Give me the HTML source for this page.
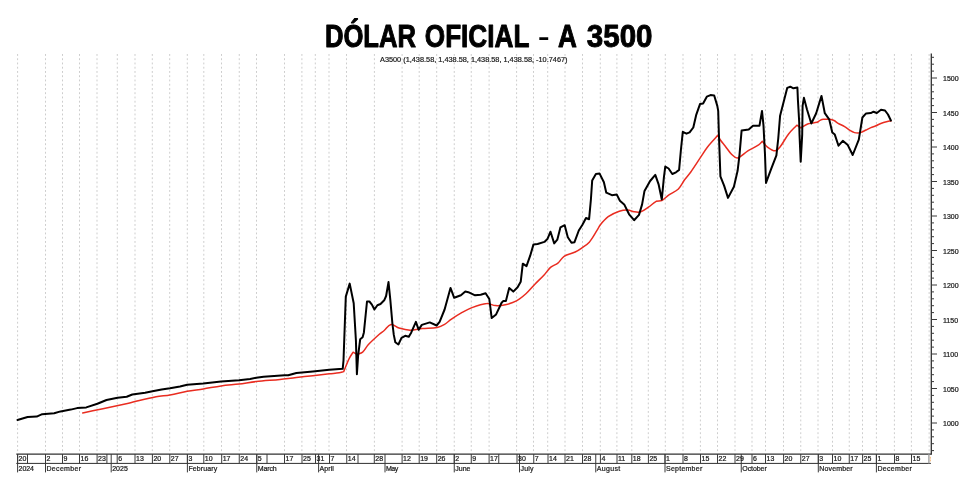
<!DOCTYPE html>
<html lang="es"><head><meta charset="utf-8"><title>DÓLAR OFICIAL – A 3500</title>
<style>html,body{margin:0;padding:0;background:#fff;}body{width:980px;height:487px;overflow:hidden;}svg{display:block;}text{font-family:"Liberation Sans",sans-serif;}</style></head><body>
<svg width="980" height="487" viewBox="0 0 980 487">
<rect width="980" height="487" fill="#fff"/>
<g stroke="#cdcdcd" stroke-width="1" stroke-dasharray="1.9 2.35" fill="none">
<line x1="17.60" y1="54" x2="17.60" y2="453"/>
<line x1="45.50" y1="54" x2="45.50" y2="453"/>
<line x1="62.50" y1="54" x2="62.50" y2="453"/>
<line x1="79.50" y1="54" x2="79.50" y2="453"/>
<line x1="97.00" y1="54" x2="97.00" y2="453"/>
<line x1="117.30" y1="54" x2="117.30" y2="453"/>
<line x1="135.00" y1="54" x2="135.00" y2="453"/>
<line x1="152.30" y1="54" x2="152.30" y2="453"/>
<line x1="169.70" y1="54" x2="169.70" y2="453"/>
<line x1="187.30" y1="54" x2="187.30" y2="453"/>
<line x1="203.80" y1="54" x2="203.80" y2="453"/>
<line x1="221.50" y1="54" x2="221.50" y2="453"/>
<line x1="239.25" y1="54" x2="239.25" y2="453"/>
<line x1="256.50" y1="54" x2="256.50" y2="453"/>
<line x1="284.50" y1="54" x2="284.50" y2="453"/>
<line x1="301.90" y1="54" x2="301.90" y2="453"/>
<line x1="315.30" y1="54" x2="315.30" y2="453"/>
<line x1="329.00" y1="54" x2="329.00" y2="453"/>
<line x1="346.50" y1="54" x2="346.50" y2="453"/>
<line x1="374.40" y1="54" x2="374.40" y2="453"/>
<line x1="402.10" y1="54" x2="402.10" y2="453"/>
<line x1="419.20" y1="54" x2="419.20" y2="453"/>
<line x1="436.70" y1="54" x2="436.70" y2="453"/>
<line x1="454.25" y1="54" x2="454.25" y2="453"/>
<line x1="471.25" y1="54" x2="471.25" y2="453"/>
<line x1="489.10" y1="54" x2="489.10" y2="453"/>
<line x1="516.60" y1="54" x2="516.60" y2="453"/>
<line x1="533.50" y1="54" x2="533.50" y2="453"/>
<line x1="547.70" y1="54" x2="547.70" y2="453"/>
<line x1="565.00" y1="54" x2="565.00" y2="453"/>
<line x1="582.50" y1="54" x2="582.50" y2="453"/>
<line x1="600.30" y1="54" x2="600.30" y2="453"/>
<line x1="616.90" y1="54" x2="616.90" y2="453"/>
<line x1="631.80" y1="54" x2="631.80" y2="453"/>
<line x1="648.30" y1="54" x2="648.30" y2="453"/>
<line x1="665.30" y1="54" x2="665.30" y2="453"/>
<line x1="683.00" y1="54" x2="683.00" y2="453"/>
<line x1="700.40" y1="54" x2="700.40" y2="453"/>
<line x1="717.50" y1="54" x2="717.50" y2="453"/>
<line x1="735.00" y1="54" x2="735.00" y2="453"/>
<line x1="752.00" y1="54" x2="752.00" y2="453"/>
<line x1="765.50" y1="54" x2="765.50" y2="453"/>
<line x1="783.50" y1="54" x2="783.50" y2="453"/>
<line x1="800.75" y1="54" x2="800.75" y2="453"/>
<line x1="818.00" y1="54" x2="818.00" y2="453"/>
<line x1="832.50" y1="54" x2="832.50" y2="453"/>
<line x1="849.25" y1="54" x2="849.25" y2="453"/>
<line x1="862.50" y1="54" x2="862.50" y2="453"/>
<line x1="876.40" y1="54" x2="876.40" y2="453"/>
<line x1="894.40" y1="54" x2="894.40" y2="453"/>
<line x1="911.40" y1="54" x2="911.40" y2="453"/>
<line x1="929.2" y1="54" x2="929.2" y2="453" stroke="#e2e2e2" stroke-width="1.6"/>
</g>
<g font-size="31.5" font-weight="bold" fill="#000" stroke="#000" stroke-linejoin="round">
<text transform="translate(324.90,46.80) scale(0.8143,1.000)" stroke-width="0.9" vector-effect="non-scaling-stroke">DÓLAR</text>
<text transform="translate(424.80,46.80) scale(0.8305,1.000)" stroke-width="0.9" vector-effect="non-scaling-stroke">OFICIAL</text>
<text transform="translate(538.70,46.05) scale(0.5720,0.880)" stroke-width="0" vector-effect="non-scaling-stroke">–</text>
<text transform="translate(558.00,46.80) scale(0.8286,1.000)" stroke-width="0.9" vector-effect="non-scaling-stroke">A</text>
<text transform="translate(586.80,46.80) scale(0.9381,1.000)" stroke-width="0.9" vector-effect="non-scaling-stroke">3500</text>
</g>
<text x="380" y="61.8" font-size="6.3" textLength="187.5" lengthAdjust="spacingAndGlyphs" fill="#1a1a1a" stroke="#1a1a1a" stroke-width="0.18">A3500 (1,438.58, 1,438.58, 1,438.58, 1,438.58, -10.7467)</text>
<g stroke="#3a3a3a" stroke-width="1" fill="none">
<line x1="16.3" y1="454.15" x2="931.7" y2="454.15" stroke-width="1.2" stroke="#303030"/>
<line x1="16.3" y1="463.4" x2="930.9" y2="463.4" stroke-width="1" stroke="#2e2e2e"/>
<line x1="931.3" y1="53.5" x2="931.3" y2="454.6" stroke-width="1.25" stroke="#2a2a2a"/>
<line x1="17.60" y1="454" x2="17.60" y2="463.4"/>
<line x1="27.50" y1="454" x2="27.50" y2="463.4"/>
<line x1="45.50" y1="454" x2="45.50" y2="463.4"/>
<line x1="62.50" y1="454" x2="62.50" y2="463.4"/>
<line x1="79.50" y1="454" x2="79.50" y2="463.4"/>
<line x1="97.10" y1="454" x2="97.10" y2="463.4"/>
<line x1="106.90" y1="454" x2="106.90" y2="463.4"/>
<line x1="117.20" y1="454" x2="117.20" y2="463.4"/>
<line x1="135.00" y1="454" x2="135.00" y2="463.4"/>
<line x1="152.40" y1="454" x2="152.40" y2="463.4"/>
<line x1="169.80" y1="454" x2="169.80" y2="463.4"/>
<line x1="187.40" y1="454" x2="187.40" y2="463.4"/>
<line x1="203.80" y1="454" x2="203.80" y2="463.4"/>
<line x1="221.70" y1="454" x2="221.70" y2="463.4"/>
<line x1="239.25" y1="454" x2="239.25" y2="463.4"/>
<line x1="256.75" y1="454" x2="256.75" y2="463.4"/>
<line x1="267.00" y1="454" x2="267.00" y2="463.4"/>
<line x1="284.50" y1="454" x2="284.50" y2="463.4"/>
<line x1="302.00" y1="454" x2="302.00" y2="463.4"/>
<line x1="315.50" y1="454" x2="315.50" y2="463.4"/>
<line x1="329.50" y1="454" x2="329.50" y2="463.4"/>
<line x1="346.75" y1="454" x2="346.75" y2="463.4"/>
<line x1="358.00" y1="454" x2="358.00" y2="463.4"/>
<line x1="374.30" y1="454" x2="374.30" y2="463.4"/>
<line x1="402.10" y1="454" x2="402.10" y2="463.4"/>
<line x1="419.20" y1="454" x2="419.20" y2="463.4"/>
<line x1="436.70" y1="454" x2="436.70" y2="463.4"/>
<line x1="454.25" y1="454" x2="454.25" y2="463.4"/>
<line x1="471.25" y1="454" x2="471.25" y2="463.4"/>
<line x1="489.10" y1="454" x2="489.10" y2="463.4"/>
<line x1="498.75" y1="454" x2="498.75" y2="463.4"/>
<line x1="517.00" y1="454" x2="517.00" y2="463.4"/>
<line x1="533.75" y1="454" x2="533.75" y2="463.4"/>
<line x1="548.00" y1="454" x2="548.00" y2="463.4"/>
<line x1="565.00" y1="454" x2="565.00" y2="463.4"/>
<line x1="582.50" y1="454" x2="582.50" y2="463.4"/>
<line x1="600.40" y1="454" x2="600.40" y2="463.4"/>
<line x1="617.00" y1="454" x2="617.00" y2="463.4"/>
<line x1="631.80" y1="454" x2="631.80" y2="463.4"/>
<line x1="648.40" y1="454" x2="648.40" y2="463.4"/>
<line x1="665.00" y1="454" x2="665.00" y2="463.4"/>
<line x1="683.00" y1="454" x2="683.00" y2="463.4"/>
<line x1="700.50" y1="454" x2="700.50" y2="463.4"/>
<line x1="717.50" y1="454" x2="717.50" y2="463.4"/>
<line x1="735.00" y1="454" x2="735.00" y2="463.4"/>
<line x1="752.00" y1="454" x2="752.00" y2="463.4"/>
<line x1="765.50" y1="454" x2="765.50" y2="463.4"/>
<line x1="783.60" y1="454" x2="783.60" y2="463.4"/>
<line x1="800.75" y1="454" x2="800.75" y2="463.4"/>
<line x1="818.30" y1="454" x2="818.30" y2="463.4"/>
<line x1="832.50" y1="454" x2="832.50" y2="463.4"/>
<line x1="849.25" y1="454" x2="849.25" y2="463.4"/>
<line x1="862.60" y1="454" x2="862.60" y2="463.4"/>
<line x1="876.40" y1="454" x2="876.40" y2="463.4"/>
<line x1="894.50" y1="454" x2="894.50" y2="463.4"/>
<line x1="911.50" y1="454" x2="911.50" y2="463.4"/>
<line x1="928.9" y1="454" x2="928.9" y2="463.4" stroke="#9a9a9a" stroke-width="1.3"/>
<line x1="17.60" y1="454" x2="17.60" y2="472.4"/>
<line x1="45.50" y1="454" x2="45.50" y2="472.4"/>
<line x1="111.20" y1="454" x2="111.20" y2="472.4"/>
<line x1="187.40" y1="454" x2="187.40" y2="472.4"/>
<line x1="256.75" y1="454" x2="256.75" y2="472.4"/>
<line x1="318.60" y1="454" x2="318.60" y2="472.4"/>
<line x1="385.00" y1="454" x2="385.00" y2="472.4"/>
<line x1="454.25" y1="454" x2="454.25" y2="472.4"/>
<line x1="519.50" y1="454" x2="519.50" y2="472.4"/>
<line x1="595.75" y1="454" x2="595.75" y2="472.4"/>
<line x1="665.00" y1="454" x2="665.00" y2="472.4"/>
<line x1="741.25" y1="454" x2="741.25" y2="472.4"/>
<line x1="818.30" y1="454" x2="818.30" y2="472.4"/>
<line x1="876.40" y1="454" x2="876.40" y2="472.4"/>
<line x1="931.2" y1="57.30" x2="934" y2="57.30"/>
<line x1="931.2" y1="64.20" x2="934" y2="64.20"/>
<line x1="931.2" y1="71.10" x2="934" y2="71.10"/>
<line x1="931.2" y1="78.00" x2="937" y2="78.00"/>
<line x1="931.2" y1="84.90" x2="934" y2="84.90"/>
<line x1="931.2" y1="91.80" x2="934" y2="91.80"/>
<line x1="931.2" y1="98.70" x2="934" y2="98.70"/>
<line x1="931.2" y1="105.60" x2="934" y2="105.60"/>
<line x1="931.2" y1="112.50" x2="937" y2="112.50"/>
<line x1="931.2" y1="119.40" x2="934" y2="119.40"/>
<line x1="931.2" y1="126.30" x2="934" y2="126.30"/>
<line x1="931.2" y1="133.20" x2="934" y2="133.20"/>
<line x1="931.2" y1="140.10" x2="934" y2="140.10"/>
<line x1="931.2" y1="147.00" x2="937" y2="147.00"/>
<line x1="931.2" y1="153.90" x2="934" y2="153.90"/>
<line x1="931.2" y1="160.80" x2="934" y2="160.80"/>
<line x1="931.2" y1="167.70" x2="934" y2="167.70"/>
<line x1="931.2" y1="174.60" x2="934" y2="174.60"/>
<line x1="931.2" y1="181.50" x2="937" y2="181.50"/>
<line x1="931.2" y1="188.40" x2="934" y2="188.40"/>
<line x1="931.2" y1="195.30" x2="934" y2="195.30"/>
<line x1="931.2" y1="202.20" x2="934" y2="202.20"/>
<line x1="931.2" y1="209.10" x2="934" y2="209.10"/>
<line x1="931.2" y1="216.00" x2="937" y2="216.00"/>
<line x1="931.2" y1="222.90" x2="934" y2="222.90"/>
<line x1="931.2" y1="229.80" x2="934" y2="229.80"/>
<line x1="931.2" y1="236.70" x2="934" y2="236.70"/>
<line x1="931.2" y1="243.60" x2="934" y2="243.60"/>
<line x1="931.2" y1="250.50" x2="937" y2="250.50"/>
<line x1="931.2" y1="257.40" x2="934" y2="257.40"/>
<line x1="931.2" y1="264.30" x2="934" y2="264.30"/>
<line x1="931.2" y1="271.20" x2="934" y2="271.20"/>
<line x1="931.2" y1="278.10" x2="934" y2="278.10"/>
<line x1="931.2" y1="285.00" x2="937" y2="285.00"/>
<line x1="931.2" y1="291.90" x2="934" y2="291.90"/>
<line x1="931.2" y1="298.80" x2="934" y2="298.80"/>
<line x1="931.2" y1="305.70" x2="934" y2="305.70"/>
<line x1="931.2" y1="312.60" x2="934" y2="312.60"/>
<line x1="931.2" y1="319.50" x2="937" y2="319.50"/>
<line x1="931.2" y1="326.40" x2="934" y2="326.40"/>
<line x1="931.2" y1="333.30" x2="934" y2="333.30"/>
<line x1="931.2" y1="340.20" x2="934" y2="340.20"/>
<line x1="931.2" y1="347.10" x2="934" y2="347.10"/>
<line x1="931.2" y1="354.00" x2="937" y2="354.00"/>
<line x1="931.2" y1="360.90" x2="934" y2="360.90"/>
<line x1="931.2" y1="367.80" x2="934" y2="367.80"/>
<line x1="931.2" y1="374.70" x2="934" y2="374.70"/>
<line x1="931.2" y1="381.60" x2="934" y2="381.60"/>
<line x1="931.2" y1="388.50" x2="937" y2="388.50"/>
<line x1="931.2" y1="395.40" x2="934" y2="395.40"/>
<line x1="931.2" y1="402.30" x2="934" y2="402.30"/>
<line x1="931.2" y1="409.20" x2="934" y2="409.20"/>
<line x1="931.2" y1="416.10" x2="934" y2="416.10"/>
<line x1="931.2" y1="423.00" x2="937" y2="423.00"/>
<line x1="931.2" y1="429.90" x2="934" y2="429.90"/>
<line x1="931.2" y1="436.80" x2="934" y2="436.80"/>
<line x1="931.2" y1="443.70" x2="934" y2="443.70"/>
<line x1="931.2" y1="450.60" x2="934" y2="450.60"/>
</g>
<g font-size="7" fill="#1a1a1a" stroke="#1a1a1a" stroke-width="0.22">
<text x="18.60" y="461">20</text>
<text x="46.50" y="461">2</text>
<text x="63.50" y="461">9</text>
<text x="80.50" y="461">16</text>
<text x="98.10" y="461">23</text>
<text x="118.20" y="461">6</text>
<text x="136.00" y="461">13</text>
<text x="153.40" y="461">20</text>
<text x="170.80" y="461">27</text>
<text x="188.40" y="461">3</text>
<text x="204.80" y="461">10</text>
<text x="222.70" y="461">17</text>
<text x="240.25" y="461">24</text>
<text x="257.75" y="461">5</text>
<text x="285.50" y="461">17</text>
<text x="303.00" y="461">25</text>
<text x="316.50" y="461">31</text>
<text x="330.50" y="461">7</text>
<text x="347.75" y="461">14</text>
<text x="375.30" y="461">28</text>
<text x="403.10" y="461">12</text>
<text x="420.20" y="461">19</text>
<text x="437.70" y="461">26</text>
<text x="455.25" y="461">2</text>
<text x="472.25" y="461">9</text>
<text x="490.10" y="461">17</text>
<text x="518.00" y="461">30</text>
<text x="534.75" y="461">7</text>
<text x="549.00" y="461">14</text>
<text x="566.00" y="461">21</text>
<text x="583.50" y="461">28</text>
<text x="601.40" y="461">4</text>
<text x="618.00" y="461">11</text>
<text x="632.80" y="461">18</text>
<text x="649.40" y="461">25</text>
<text x="666.00" y="461">1</text>
<text x="684.00" y="461">8</text>
<text x="701.50" y="461">15</text>
<text x="718.50" y="461">22</text>
<text x="736.00" y="461">29</text>
<text x="753.00" y="461">6</text>
<text x="766.50" y="461">13</text>
<text x="784.60" y="461">20</text>
<text x="801.75" y="461">27</text>
<text x="819.30" y="461">3</text>
<text x="833.50" y="461">10</text>
<text x="850.25" y="461">17</text>
<text x="863.60" y="461">25</text>
<text x="877.40" y="461">1</text>
<text x="895.50" y="461">8</text>
<text x="912.50" y="461">15</text>
<text x="18.60" y="471" textLength="15.40">2024</text>
<text x="46.50" y="471" textLength="34.50">December</text>
<text x="112.20" y="471" textLength="15.60">2025</text>
<text x="188.40" y="471" textLength="28.75">February</text>
<text x="257.75" y="471" textLength="19.00">March</text>
<text x="319.60" y="471" textLength="14.25">April</text>
<text x="386.00" y="471" textLength="12.20">May</text>
<text x="455.25" y="471" textLength="15.25">June</text>
<text x="520.50" y="471" textLength="13.00">July</text>
<text x="596.75" y="471" textLength="23.50">August</text>
<text x="666.00" y="471" textLength="36.25">September</text>
<text x="742.25" y="471" textLength="24.50">October</text>
<text x="819.30" y="471" textLength="33.25">November</text>
<text x="877.40" y="471" textLength="34.50">December</text>
<text x="943" y="426">1000</text>
<text x="943" y="392">1050</text>
<text x="943" y="357">1100</text>
<text x="943" y="323">1150</text>
<text x="943" y="288">1200</text>
<text x="943" y="254">1250</text>
<text x="943" y="219">1300</text>
<text x="943" y="185">1350</text>
<text x="943" y="150">1400</text>
<text x="943" y="116">1450</text>
<text x="943" y="81">1500</text>
</g>
<line x1="930.4" y1="456.8" x2="930.4" y2="461.4" stroke="#f0a860" stroke-width="0.8" stroke-dasharray="1.9 0.8"/>
<path d="M82.7,412.9 C89.4,411.5 96.2,410.1 102.9,408.7 C111.5,406.9 120.1,405.1 128.6,403.2 C137.8,401.1 146.9,398.5 156.1,396.7 C160.7,395.8 165.4,395.8 170.0,395.0 C175.8,394.0 181.4,392.4 187.2,391.3 C192.5,390.3 197.9,389.8 203.3,388.9 C209.2,388.0 215.1,386.7 221.1,385.9 C227.0,385.1 233.0,384.7 239.0,384.0 C244.7,383.3 250.4,382.2 256.2,381.6 C264.1,380.7 272.1,380.2 280.0,379.4 C285.5,378.8 290.9,378.0 296.4,377.4 C301.9,376.8 307.4,376.3 312.9,375.7 C318.4,375.1 323.8,374.4 329.3,373.8 C332.6,373.4 335.9,373.3 339.1,372.8 C340.7,372.6 342.2,372.0 343.7,371.6 C345.5,367.4 347.0,363.0 349.0,358.9 C350.1,356.5 351.7,354.4 353.1,352.2 C354.5,353.0 355.8,353.7 357.2,354.5 C359.0,353.7 361.1,353.4 362.6,352.1 C364.9,350.0 366.1,347.0 368.2,344.7 C371.7,341.0 375.5,337.6 379.3,334.2 C380.8,332.8 382.6,331.8 384.2,330.5 C386.5,328.6 388.0,325.0 391.0,324.5 C393.9,324.0 396.2,327.2 399.0,328.0 C402.6,329.1 406.3,330.1 410.0,330.2 C414.2,330.3 418.3,329.0 422.4,328.6 C427.3,328.1 432.3,328.3 437.2,327.4 C439.8,326.9 442.3,325.6 444.6,324.3 C447.0,322.9 448.9,320.9 451.1,319.4 C454.3,317.2 457.5,315.1 460.9,313.2 C464.5,311.2 468.1,309.0 472.0,307.6 C476.8,305.8 481.7,304.0 486.8,303.6 C489.7,303.3 492.5,305.4 495.4,305.6 C498.7,305.8 502.1,305.5 505.3,304.8 C509.1,303.9 513.0,302.8 516.4,300.9 C520.0,299.0 523.2,296.2 526.2,293.5 C529.4,290.7 531.9,287.3 534.9,284.2 C537.9,281.1 541.1,278.2 544.1,275.0 C546.4,272.6 548.0,269.6 550.5,267.4 C552.7,265.5 555.7,264.9 557.9,263.1 C560.3,261.2 561.5,258.0 564.1,256.3 C567.4,254.2 571.6,253.7 575.2,252.0 C577.4,251.0 579.3,249.7 581.3,248.3 C584.1,246.4 587.1,244.7 589.3,242.2 C592.5,238.5 594.7,234.0 597.3,229.9 C598.3,228.3 599.0,226.5 600.2,225.0 C602.6,222.0 605.1,219.0 608.2,216.7 C611.5,214.3 615.4,212.5 619.3,211.2 C622.0,210.3 625.0,209.9 627.9,210.0 C630.1,210.1 632.0,211.5 634.1,211.8 C636.3,212.1 638.7,212.5 640.8,211.8 C643.8,210.8 646.2,208.7 648.8,206.9 C651.4,205.2 653.4,202.7 656.2,201.3 C657.9,200.5 660.1,201.3 661.8,200.5 C664.4,199.2 666.2,196.8 668.6,195.2 C671.8,193.0 675.6,191.7 678.4,189.0 C681.1,186.4 682.4,182.8 684.6,179.8 C686.6,177.1 688.9,174.7 690.8,172.0 C694.2,167.2 697.4,162.1 700.7,157.2 C702.7,154.1 704.6,150.9 706.8,148.0 C708.9,145.2 711.3,142.7 713.6,140.0 C715.0,138.4 716.3,136.9 717.7,135.3 C718.6,136.9 719.4,138.5 720.4,140.0 C721.9,142.2 723.7,144.1 725.3,146.2 C727.4,148.9 729.1,151.9 731.5,154.2 C733.2,155.8 735.3,158.4 737.6,157.9 C741.5,157.1 744.1,153.2 747.5,151.1 C751.1,148.9 755.1,147.2 758.6,144.9 C760.0,143.9 761.1,142.5 762.3,141.3 C763.9,143.1 765.2,145.3 767.2,146.8 C769.6,148.6 772.2,150.8 775.2,150.8 C777.2,150.8 778.7,148.6 780.0,147.0 C783.2,142.9 785.4,138.1 788.6,134.0 C791.0,130.8 794.1,128.1 796.8,125.2 C798.2,126.1 799.5,127.0 800.9,127.9 C803.4,126.5 805.6,124.7 808.3,123.8 C811.1,122.8 814.2,123.1 817.0,122.3 C818.1,122.0 818.9,120.9 820.0,120.4 C821.0,119.9 822.1,119.4 823.3,119.3 C825.5,119.1 827.7,119.1 829.9,119.3 C831.3,119.5 832.7,119.9 834.0,120.5 C835.5,121.2 836.7,122.5 838.1,123.3 C840.2,124.5 842.5,125.4 844.6,126.7 C846.6,127.9 848.4,129.5 850.4,130.7 C851.7,131.5 853.1,132.2 854.5,132.6 C855.6,132.9 856.7,133.0 857.8,133.0 C858.9,133.0 860.1,132.8 861.1,132.4 C862.8,131.8 864.4,130.8 866.0,130.0 C867.6,129.2 869.2,128.3 870.9,127.6 C872.5,126.9 874.3,126.5 875.9,125.8 C877.6,125.1 879.1,124.1 880.8,123.5 C883.0,122.7 885.2,122.1 887.4,121.5 C888.5,121.2 889.7,121.1 890.9,120.9" fill="none" stroke="#e92c20" stroke-width="1.5" stroke-linejoin="round" stroke-linecap="round"/>
<polyline points="17.5,420.0 27.6,417.0 36.7,416.6 42.2,414.2 54.2,413.3 60.6,411.4 70.7,409.6 77.1,408.1 86.3,407.4 97.4,403.7 106.5,400.0 117.6,397.7 126.7,396.7 132.3,394.5 145.1,392.7 152.5,391.2 161.6,389.4 170.0,388.2 180.0,386.4 187.2,384.8 203.3,383.5 221.1,381.6 239.0,380.3 250.1,379.0 256.2,377.8 263.6,376.7 284.6,375.3 288.2,375.2 296.4,373.0 312.9,371.5 329.3,369.8 342.7,368.8 343.5,360.5 345.8,296.6 349.7,283.6 353.7,303.3 355.9,340.0 356.9,374.3 358.1,355.8 360.2,339.2 362.6,337.3 363.9,332.4 367.0,301.5 369.4,301.5 371.9,304.6 374.4,309.5 377.4,305.2 380.5,304.0 384.2,300.3 386.1,296.0 388.5,282.1 390.3,299.6 392.4,323.5 393.8,334.9 395.3,342.2 398.4,344.5 401.5,337.9 405.2,335.8 408.8,336.7 411.3,332.4 415.9,321.8 418.7,329.8 421.8,324.9 429.8,322.4 436.6,325.5 439.6,321.8 444.6,309.5 450.5,287.9 454.2,297.8 460.9,295.3 465.3,291.6 468.3,292.2 475.1,295.3 480.7,294.7 485.6,293.2 489.3,299.0 491.7,318.1 496.1,314.4 501.6,302.7 503.4,300.9 505.9,301.1 509.2,287.9 513.3,291.6 517.6,287.3 520.7,281.8 522.8,263.7 526.5,266.2 530.2,255.7 533.5,244.4 537.6,244.0 544.4,241.9 547.4,239.1 550.5,231.7 554.2,243.4 557.3,239.7 560.4,227.4 564.7,225.2 567.8,237.2 571.5,242.8 574.5,242.2 578.8,230.5 582.3,225.0 586.0,218.0 589.1,219.2 590.9,199.5 592.2,180.4 595.9,173.9 599.6,173.6 603.9,182.2 606.3,192.7 611.9,195.2 616.8,194.6 619.9,200.7 624.2,204.4 629.1,214.3 634.1,220.2 639.0,214.9 642.1,204.4 644.5,190.9 650.1,181.0 655.3,174.9 658.7,184.7 661.8,199.5 663.9,177.3 665.3,166.5 668.6,168.5 672.3,174.0 676.0,172.3 679.1,169.9 680.9,150.0 682.8,131.8 686.5,133.7 689.6,132.4 693.3,127.5 696.3,114.6 700.0,104.1 703.1,103.5 706.8,96.7 710.5,95.1 714.2,95.5 717.3,105.9 718.2,110.9 718.9,134.3 720.4,176.3 724.1,185.6 728.0,197.9 733.9,186.8 737.6,170.8 739.5,154.8 741.6,130.6 748.7,129.4 753.0,125.7 759.5,125.7 762.0,110.9 763.5,125.7 765.0,154.8 766.0,182.9 770.9,169.6 776.4,155.4 778.3,138.0 780.1,115.7 787.2,87.9 790.3,86.7 793.4,88.3 797.4,87.6 797.9,99.7 799.2,122.0 799.5,134.6 800.7,161.7 802.2,134.6 802.6,105.8 803.9,97.8 807.0,109.5 811.3,123.5 816.2,113.2 821.5,95.9 824.8,113.2 829.2,119.3 832.3,132.5 834.8,134.6 838.5,145.7 842.8,140.8 847.8,145.1 852.7,155.0 858.8,139.6 862.4,117.5 866.1,113.4 870.8,113.1 873.5,111.7 876.8,113.0 881.0,109.8 885.0,110.5 888.0,114.5 890.9,120.5" fill="none" stroke="#000" stroke-width="2" stroke-linejoin="round" stroke-linecap="round"/>
</svg></body></html>
